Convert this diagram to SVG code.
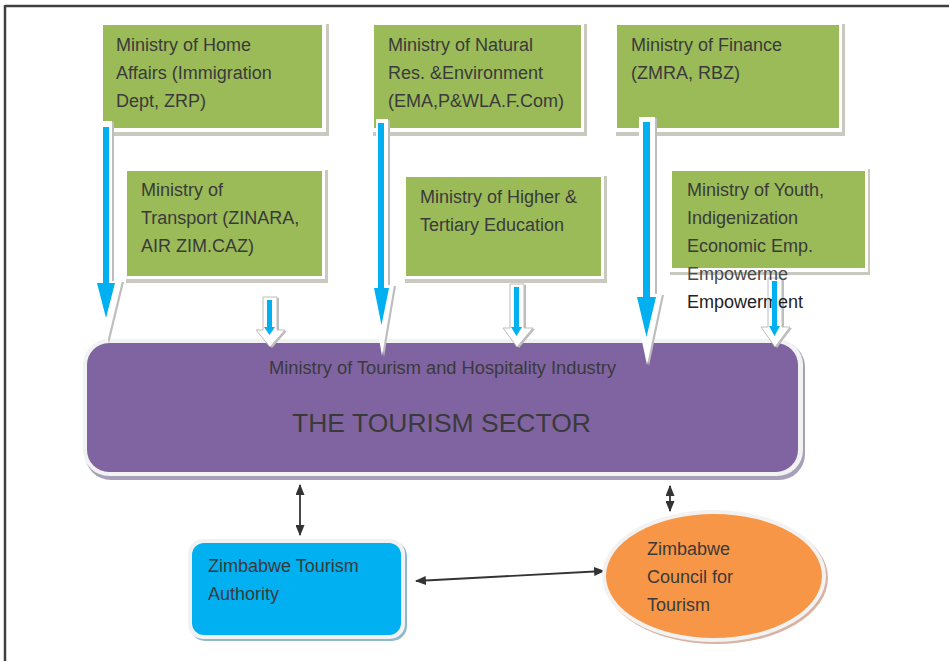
<svg xmlns="http://www.w3.org/2000/svg" width="949" height="661" viewBox="0 0 949 661">
<defs>
<style>
.t{font-family:"Liberation Sans",Arial,sans-serif;font-size:18px;fill:#3a3a3a}
.gsh{fill:#c9c9bf}
.wb{fill:#ffffff}
.green{fill:#9BBB59}
.ash{fill:#bdbdbd}
.aw{fill:#ffffff}
.aws{fill:#ffffff;stroke:#bcbcbc;stroke-width:1}
.ac{fill:#00B0F0}
.bl{stroke:#333333;stroke-width:1.8;fill:none;marker-start:url(#ah);marker-end:url(#ah)}
</style>
<marker id="ah" viewBox="0 0 10 10" refX="9" refY="5" markerWidth="11" markerHeight="9" orient="auto-start-reverse" markerUnits="userSpaceOnUse" preserveAspectRatio="none">
<path d="M0,0 L10,5 L0,10 z" fill="#333333"/>
</marker>
</defs>
<rect width="949" height="661" fill="#ffffff"/>
<g id="frame">
<line x1="5" y1="6" x2="949" y2="6" stroke="#404040" stroke-width="2.5"/>
<line x1="5" y1="5" x2="5" y2="661" stroke="#404040" stroke-width="2.5"/>
</g>

<g id="home-affairs">
<rect class="gsh" x="102" y="24" width="227" height="112"/>
<rect class="wb" x="100" y="22" width="226" height="110"/>
<rect class="green" x="103" y="25" width="219" height="103"/>
<text class="t" x="116" y="51">Ministry of Home</text>
<text class="t" x="116" y="79">Affairs (Immigration</text>
<text class="t" x="116" y="107">Dept, ZRP)</text>
</g>
<g id="natural-resources">
<rect class="gsh" x="373" y="24" width="214" height="112"/>
<rect class="wb" x="371" y="22" width="213" height="110"/>
<rect class="green" x="374" y="25" width="207" height="103"/>
<text class="t" x="388" y="51">Ministry of Natural</text>
<text class="t" x="388" y="79">Res. &amp;Environment</text>
<text class="t" x="388" y="107">(EMA,P&amp;WLA.F.Com)</text>
</g>
<g id="finance">
<rect class="gsh" x="616" y="24" width="229" height="112"/>
<rect class="wb" x="614" y="22" width="228" height="110"/>
<rect class="green" x="617" y="25" width="222" height="103"/>
<text class="t" x="631" y="51">Ministry of Finance</text>
<text class="t" x="631" y="79">(ZMRA, RBZ)</text>
</g>
<g id="transport">
<rect class="gsh" x="126" y="170" width="202" height="113"/>
<rect class="wb" x="124" y="168" width="201" height="111"/>
<rect class="green" x="127" y="171" width="195" height="105"/>
<text class="t" x="141" y="196">Ministry of</text>
<text class="t" x="141" y="224">Transport (ZINARA,</text>
<text class="t" x="141" y="252">AIR ZIM.CAZ)</text>
</g>
<g id="higher-education">
<rect class="gsh" x="405" y="176" width="202" height="107"/>
<rect class="wb" x="403" y="174" width="201" height="105"/>
<rect class="green" x="406" y="177" width="195" height="99"/>
<text class="t" x="420" y="203">Ministry of Higher &amp;</text>
<text class="t" x="420" y="231">Tertiary Education</text>
</g>

<g id="tourism-sector">
<rect x="85" y="341" width="720" height="139" rx="26" fill="#a7a0b8"/>
<rect x="83" y="339" width="720" height="137" rx="26" fill="#f2f2f2"/>
<rect x="87" y="343" width="711" height="129" rx="22" fill="#8064A2"/>
</g>

<g id="connectors">
<g id="arrow-home">
<polygon class="ash" points="102,122 114,122 114,282 124,282 109,344 94,282 102,282"/>
<polygon class="aw" points="100,121 112,121 112,281 122,281 107,343 92,281 100,281"/>
<polygon class="ac" points="103,127 109,127 109,283 115,283 106,318 97,283 103,283"/>
</g>
<g id="arrow-natural">
<polygon class="ash" points="378,120 390,120 390,286 396,286 384,357 372,286 378,286"/>
<polygon class="aw" points="376,119 388,119 388,285 394,285 382,356 370,285 376,285"/>
<polygon class="ac" points="378,123 384,123 384,288 389,288 381.5,325 374,288 378,288"/>
</g>
<g id="arrow-finance">
<polygon class="ash" points="641,118 657,118 657,295 664,295 649,366 634,295 641,295"/>
<polygon class="aw" points="639,117 655,117 655,294 662,294 647,365 632,294 639,294"/>
<polygon class="ac" points="643,122 650,122 650,297 656,297 646.5,337 637,297 643,297"/>
</g>
<g id="arrow-transport">
<polygon class="ash" points="265,298 279,298 279,331 287,331 272,348 258,331 265,331"/>
<polygon class="aws" points="263,297 277,297 277,330 285,330 270,347 256,330 263,330"/>
<polygon class="ac" points="267,300 272,300 272,327 275,327 269.5,335 264,327 267,327"/>
</g>
<g id="arrow-higher">
<polygon class="ash" points="512,285 526,285 526,329 535,329 519,348 505,329 512,329"/>
<polygon class="aws" points="510,284 524,284 524,328 533,328 517,347 503,328 510,328"/>
<polygon class="ac" points="514,287 519,287 519,327 522,327 516.5,336 511,327 514,327"/>
</g>
<g id="arrow-youth">
<polygon class="ash" points="770,279 784,279 784,328 792,328 777,348 763,328 770,328"/>
<polygon class="aws" points="768,278 782,278 782,327 790,327 775,347 761,327 768,327"/>
<polygon class="ac" points="772,281 777,281 777,326 780,326 774.5,336 769,326 772,326"/>
</g>
<line class="bl" x1="300" y1="485" x2="300" y2="535"/>
<line class="bl" x1="670" y1="486" x2="670" y2="511"/>
<line class="bl" x1="416" y1="581" x2="604" y2="571"/>
</g>

<g id="youth">
<rect class="gsh" x="670" y="169" width="200" height="106"/>
<rect class="wb" x="668" y="167" width="200" height="105"/>
<rect class="green" x="672" y="171" width="193" height="97"/>
<text class="t" x="687" y="196">Ministry of Youth,</text>
<text class="t" x="687" y="224">Indigenization</text>
<text class="t" x="687" y="252">Economic Emp.</text>
<text class="t" x="687" y="280" style="fill:#4a4a4a">Empowerme</text>
<text class="t" x="687" y="308" style="fill:#222222">Empowerment</text>
<rect class="ac" x="772" y="290" width="5" height="22"/>
</g>

<g id="tourism-sector-text">
<text class="t" x="442.5" y="374" text-anchor="middle" style="font-size:18.3px">Ministry of Tourism and Hospitality Industry</text>
<text class="t" x="441.5" y="432" text-anchor="middle" style="font-size:26.5px">THE TOURISM SECTOR</text>
</g>

<g id="zta">
<rect x="190" y="541" width="217" height="100" rx="15" fill="#8fb9c9"/>
<rect x="188" y="539" width="217" height="100" rx="15" fill="#f2f2f2"/>
<rect x="192" y="543" width="209" height="92" rx="12" fill="#00B0F0"/>
<text class="t" x="208" y="572">Zimbabwe Tourism</text>
<text class="t" x="208" y="600">Authority</text>
</g>
<g id="zct">
<ellipse cx="716" cy="578" rx="112" ry="66" fill="#d9b2a2"/>
<ellipse cx="714" cy="576" rx="112" ry="66" fill="#f2f2f2"/>
<ellipse cx="714" cy="576" rx="108" ry="62" fill="#F79646"/>
<text class="t" x="647" y="555">Zimbabwe</text>
<text class="t" x="647" y="583">Council for</text>
<text class="t" x="647" y="611">Tourism</text>
</g>
</svg>
